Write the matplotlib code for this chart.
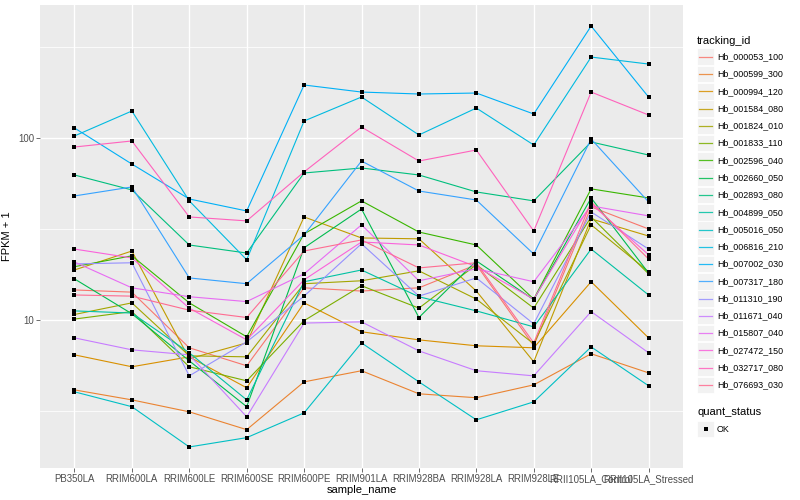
import matplotlib
matplotlib.use("Agg")
import matplotlib.pyplot as plt
import numpy as np
from matplotlib.lines import Line2D
from matplotlib.patches import Rectangle

plt.rcParams["font.family"] = ["Liberation Sans", "DejaVu Sans"]

SAMPLES = ["PB350LA", "RRIM600LA", "RRIM600LE", "RRIM600SE", "RRIM600PE", "RRIM901LA",
           "RRIM928BA", "RRIM928LA", "RRIM928LE", "RRII105LA_Control", "RRII105LA_Stressed"]

# FPKM + 1 per sample, one list per gene
hb_000053_100 = [14.6, 14.2, 7.02, 5.59, 15.0, 14.4, 15.0, 20.1, 7.2, 41.8, 31.6]
hb_000599_300 = [4.12, 3.63, 3.12, 2.49, 4.56, 5.25, 3.92, 3.73, 4.39, 6.51, 5.11]
hb_000994_120 = [6.42, 5.52, 6.26, 4.23, 12.4, 8.6, 7.76, 7.2, 7.02, 16.2, 7.96]
hb_001584_080 = [18.8, 23.9, 6.11, 7.47, 36.8, 28.2, 27.9, 14.4, 5.88, 35.9, 28.9]
hb_001824_010 = [10.7, 12.4, 6.34, 6.26, 15.8, 16.4, 18.6, 13.0, 7.38, 33.3, 18.4]
hb_001833_110 = [10.1, 11.1, 5.52, 4.62, 9.9, 15.4, 11.6, 20.1, 11.6, 36.8, 17.9]
hb_002596_040 = [19.6, 22.5, 12.4, 8.07, 29.7, 45.1, 30.4, 25.8, 13.0, 52.5, 46.8]
hb_002660_050 = [16.8, 10.8, 5.95, 3.33, 24.9, 40.7, 10.3, 21.1, 12.9, 46.8, 18.1]
hb_002893_080 = [62.6, 51.8, 25.8, 23.3, 64.2, 68.4, 62.6, 50.5, 45.1, 95.1, 80.6]
hb_004899_050 = [11.2, 10.9, 6.59, 3.63, 16.2, 18.8, 13.4, 11.2, 9.15, 24.5, 13.7]
hb_005016_050 = [4.02, 3.33, 2.0, 2.25, 3.08, 7.47, 4.56, 2.82, 3.54, 7.1, 4.34]
hb_006816_210 = [102.6, 140.7, 45.1, 21.4, 124.0, 168.0, 103.9, 146.1, 91.5, 278.6, 255.0]
hb_007002_030 = [113.5, 71.9, 46.2, 39.7, 195.6, 178.9, 174.5, 176.7, 135.5, 412.6, 168.0]
hb_007317_180 = [48.0, 53.8, 17.0, 15.8, 29.3, 74.7, 51.1, 45.6, 23.0, 98.7, 44.5]
hb_011310_190 = [20.3, 20.6, 4.92, 7.57, 13.5, 26.2, 13.5, 17.0, 9.5, 39.2, 24.5]
hb_011671_040 = [7.96, 6.84, 6.42, 2.93, 9.6, 9.75, 6.75, 5.25, 4.92, 11.1, 6.59]
hb_015807_040 = [20.8, 15.0, 13.4, 12.6, 17.9, 33.3, 16.4, 19.1, 16.2, 42.3, 37.3]
hb_027472_150 = [24.5, 21.9, 11.6, 7.76, 16.6, 26.8, 25.8, 19.6, 13.0, 43.4, 22.8]
hb_032717_080 = [89.2, 96.3, 36.8, 35.0, 65.1, 114.9, 74.7, 85.9, 30.8, 178.9, 133.8]
hb_076693_030 = [13.7, 13.5, 11.3, 10.3, 23.9, 27.5, 19.3, 20.6, 7.47, 44.5, 21.6]

TRACKING_IDS = ["Hb_000053_100", "Hb_000599_300", "Hb_000994_120", "Hb_001584_080",
                "Hb_001824_010", "Hb_001833_110", "Hb_002596_040", "Hb_002660_050",
                "Hb_002893_080", "Hb_004899_050", "Hb_005016_050", "Hb_006816_210",
                "Hb_007002_030", "Hb_007317_180", "Hb_011310_190", "Hb_011671_040",
                "Hb_015807_040", "Hb_027472_150", "Hb_032717_080", "Hb_076693_030"]
SERIES = [hb_000053_100, hb_000599_300, hb_000994_120, hb_001584_080, hb_001824_010,
          hb_001833_110, hb_002596_040, hb_002660_050, hb_002893_080, hb_004899_050,
          hb_005016_050, hb_006816_210, hb_007002_030, hb_007317_180, hb_011310_190,
          hb_011671_040, hb_015807_040, hb_027472_150, hb_032717_080, hb_076693_030]

# ggplot2 hue palette, 20 levels
COLORS = ["#F8766D", "#EA8331", "#D89000", "#C09B00", "#A3A500", "#7CAE00", "#39B600",
          "#00BB4E", "#00BF7D", "#00C1A3", "#00BFC4", "#00BAE0", "#00B0F6", "#35A2FF",
          "#9590FF", "#C77CFF", "#E76BF3", "#FA62DB", "#FF62BC", "#FF6C91"]

W, H = 800, 500
fig = plt.figure(figsize=(8, 5), dpi=100)
fig.patch.set_facecolor("white")
ax = fig.add_axes([40 / W, 32 / H, 643 / W, 463 / H])
ax.set_facecolor("#EBEBEB")

x = np.arange(len(SAMPLES))
for values, color in zip(SERIES, COLORS):
    ax.plot(x, values, color=color, lw=0.8, zorder=3)
for values in SERIES:
    ax.plot(x, values, ls="none", marker="s", ms=2.5, mew=0, color="black", zorder=4)

ax.set_yscale("log")
logs = np.log10(np.concatenate(SERIES))
lo, hi = logs.min(), logs.max()
pad = (hi - lo) * 0.05
ax.set_ylim(10 ** (lo - pad), 10 ** (hi + pad))
ax.set_xlim(-0.6, len(SAMPLES) - 0.4)

ax.set_yticks([10, 100])
ax.set_yticklabels(["10", "100"])
ax.set_yticks([], minor=True)
ax.set_xticks(x)
ax.set_xticklabels(SAMPLES)

for yv in [10 ** 0.5, 10 ** 1.5, 10 ** 2.5]:
    ax.axhline(yv, color="white", lw=0.55, zorder=1)
for yv in [10, 100]:
    ax.axhline(yv, color="white", lw=1.0, zorder=1)
for xv in x:
    ax.axvline(xv, color="white", lw=1.0, zorder=1)

for s in ax.spines.values():
    s.set_visible(False)
ax.tick_params(axis="both", which="major", length=2.7, width=0.5, color="#333333",
               labelsize=6.9, labelcolor="#4D4D4D", pad=1.5)
ax.set_xlabel("sample_name", fontsize=8, labelpad=1)
ax.set_ylabel("FPKM + 1", fontsize=8, labelpad=4)

# legend, drawn by hand in ggplot style
def fx(px):
    return px / W


def fy(py):
    return 1 - py / H


fig.text(fx(697), fy(41), "tracking_id", fontsize=8, va="center", ha="left")
step = 17.28
for i, (name, color) in enumerate(zip(TRACKING_IDS, COLORS)):
    cy = 56.7 + i * step
    fig.patches.append(Rectangle((fx(697), fy(cy + 8.3)), 16.5 / W, 16.6 / H,
                                 transform=fig.transFigure, facecolor="#F2F2F2",
                                 edgecolor="white", lw=0.6))
    fig.lines.append(Line2D([fx(699), fx(712)], [fy(cy), fy(cy)], transform=fig.transFigure,
                            color=color, lw=0.9, alpha=0.85))
    fig.text(fx(717), fy(cy), name, fontsize=6.4, va="center", ha="left")

fig.text(fx(697), fy(412), "quant_status", fontsize=8, va="center", ha="left")
fig.patches.append(Rectangle((fx(697), fy(429 + 8.3)), 16.5 / W, 16.6 / H,
                             transform=fig.transFigure, facecolor="#F2F2F2",
                             edgecolor="white", lw=0.6))
fig.lines.append(Line2D([fx(705.5)], [fy(429)], transform=fig.transFigure, marker="s",
                        ms=2.5, mew=0, color="black", ls="none"))
fig.text(fx(717), fy(429), "OK", fontsize=6.4, va="center", ha="left")

fig.savefig("out.png", dpi=100)
